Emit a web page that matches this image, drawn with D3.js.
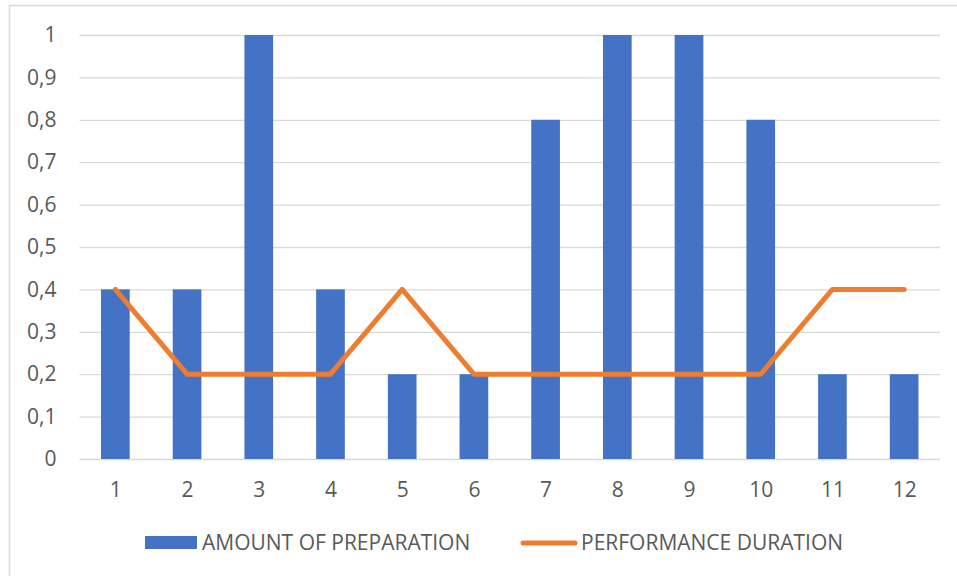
<!DOCTYPE html>
<html>
<head>
<meta charset="utf-8">
<script src="https://cdn.jsdelivr.net/npm/d3@7"></script>
<style>
  html, body { margin: 0; padding: 0; background: #fff; }
  svg { display: block; }
  text { font-family: "Open Sans", "Liberation Sans", sans-serif; fill: #595959; }
</style>
</head>
<body>
<svg id="chart" width="957" height="576"></svg>
<script>
// Sessions 1..12
const categories = ["1","2","3","4","5","6","7","8","9","10","11","12"];
const preparation = [0.4, 0.4, 1, 0.4, 0.2, 0.2, 0.8, 1, 1, 0.8, 0.2, 0.2];
const duration = [0.4, 0.2, 0.2, 0.2, 0.4, 0.2, 0.2, 0.2, 0.2, 0.2, 0.4, 0.4];
const yTicks = [0, 0.1, 0.2, 0.3, 0.4, 0.5, 0.6, 0.7, 0.8, 0.9, 1];
const seriesNames = ["AMOUNT OF PREPARATION", "PERFORMANCE DURATION"];

const colors = { bar: "#4472C4", line: "#ED7D31", grid: "#D9D9D9", border: "#D9D9D9" };
const fontSize = 21;

const svg = d3.select("#chart");

// chart frame
svg.append("rect")
  .attr("x", 9.5).attr("y", 5.5)
  .attr("width", 957).attr("height", 580)
  .attr("fill", "#fff")
  .attr("stroke", colors.border).attr("stroke-width", 1.5);

const plot = { left: 79.5, right: 940, top: 35, bottom: 459 };

const x = d3.scaleBand()
  .domain(categories)
  .range([plot.left, plot.right])
  .paddingInner(0.6).paddingOuter(0.3);

const xc = d3.scalePoint()
  .domain(categories)
  .range([plot.left, plot.right])
  .padding(0.5);

const y = d3.scaleLinear().domain([0, 1]).range([plot.bottom, plot.top]);

const fmt = v => String(v).replace(".", ",");

// horizontal gridlines + y labels
const yAxis = d3.axisLeft(y)
  .tickValues(yTicks)
  .tickSize(-(plot.right - plot.left))
  .tickPadding(23)
  .tickFormat(fmt);

const gy = svg.append("g")
  .attr("transform", `translate(${plot.left},0)`)
  .call(yAxis);
gy.select(".domain").remove();
gy.selectAll(".tick line").attr("stroke", colors.grid).attr("stroke-width", 1.3);
gy.selectAll(".tick text")
  .attr("font-size", fontSize)
  .attr("fill", "#595959")
  .style("font-family", '"Open Sans", sans-serif');

// bars
svg.append("g").selectAll("rect")
  .data(preparation)
  .join("rect")
  .attr("x", (d, i) => xc(categories[i]) - x.bandwidth() / 2)
  .attr("y", d => y(d))
  .attr("width", x.bandwidth())
  .attr("height", d => y(0) - y(d))
  .attr("fill", colors.bar);

// x axis labels
const xAxis = d3.axisBottom(xc).tickSize(0).tickPadding(23);
const gx = svg.append("g")
  .attr("transform", `translate(0,${plot.bottom})`)
  .call(xAxis);
gx.select(".domain").remove();
gx.selectAll(".tick text")
  .attr("font-size", fontSize)
  .attr("fill", "#595959")
  .style("font-family", '"Open Sans", sans-serif');

// line series
const line = d3.line()
  .x((d, i) => xc(categories[i]))
  .y(d => y(d));

svg.append("path")
  .datum(duration)
  .attr("d", line)
  .attr("fill", "none")
  .attr("stroke", colors.line)
  .attr("stroke-width", 5)
  .attr("stroke-linejoin", "round")
  .attr("stroke-linecap", "round");

// legend
const lg = svg.append("g");
lg.append("rect")
  .attr("x", 145).attr("y", 536)
  .attr("width", 52).attr("height", 13)
  .attr("fill", colors.bar);
lg.append("text")
  .attr("x", 202).attr("y", 543)
  .attr("dy", "0.35em")
  .attr("font-size", fontSize)
  .text(seriesNames[0]);

lg.append("line")
  .attr("x1", 523).attr("x2", 575)
  .attr("y1", 543).attr("y2", 543)
  .attr("stroke", colors.line)
  .attr("stroke-width", 5)
  .attr("stroke-linecap", "round");
lg.append("text")
  .attr("x", 581).attr("y", 543)
  .attr("dy", "0.35em")
  .attr("font-size", fontSize)
  .text(seriesNames[1]);
</script>
</body>
</html>
